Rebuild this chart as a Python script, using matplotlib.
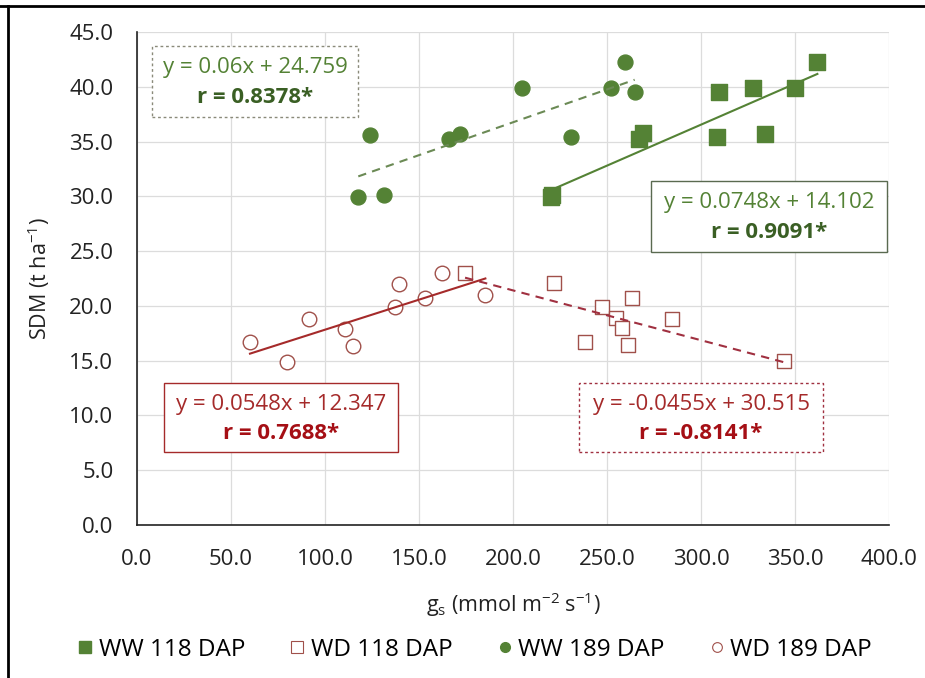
import numpy as np
import matplotlib.pyplot as plt
from matplotlib.patches import Rectangle
from matplotlib.lines import Line2D

plt.rcParams['font.family'] = ['Open Sans', 'DejaVu Sans']
plt.rcParams['mathtext.default'] = 'regular'

# datos
ww118_x = [220.9, 220.0, 309.7, 327.7, 350.0, 361.9, 308.5, 334.0, 269.3, 267.2]
ww118_y = [30.1, 29.9, 39.5, 39.9, 39.9, 42.3, 35.4, 35.7, 35.8, 35.2]
wd118_x = [174.5, 222.0, 263.5, 247.5, 254.6, 258.0, 238.3, 261.3, 284.7, 344.1]
wd118_y = [23.0, 22.1, 20.7, 19.9, 18.9, 18.0, 16.7, 16.4, 18.8, 15.0]
ww189_x = [124.0, 117.7, 131.4, 166.0, 172.0, 204.6, 259.6, 252.0, 264.7, 231.0]
ww189_y = [35.6, 29.9, 30.1, 35.2, 35.7, 39.9, 42.3, 39.9, 39.5, 35.4]
wd189_x = [60.1, 79.8, 91.7, 110.5, 114.7, 137.2, 139.5, 153.4, 162.2, 185.3]
wd189_y = [16.7, 14.9, 18.8, 17.9, 16.3, 19.9, 22.0, 20.7, 23.0, 21.0]

# pendiente, intercepto y r de cada serie
slopes = {'ww118': 0.0748, 'wd118': -0.0455, 'ww189': 0.06, 'wd189': 0.0548}
inters = {'ww118': 14.102, 'wd118': 30.515, 'ww189': 24.759, 'wd189': 12.347}
r_vals = {'ww118': '0.9091*', 'wd118': '-0.8141*', 'ww189': '0.8378*', 'wd189': '0.7688*'}

green = '#548235'
dgreen = '#3a5f24'
red = '#a52a2a'
dred = '#a50f15'
open_edge = '#a0504a'

fig = plt.figure(figsize=(9.25, 6.78), dpi=100)
ax = fig.add_axes([137/925, 1 - 525/678, 752/925, 493/678])

ax.scatter(ww118_x, ww118_y, marker='s', s=120, color=green, zorder=3, label='WW 118 DAP')
ax.scatter(wd118_x, wd118_y, marker='s', s=105, facecolor='white', edgecolor=open_edge,
           linewidth=1.0, zorder=3, label='WD 118 DAP')
ax.scatter(ww189_x, ww189_y, marker='o', s=115, color=green, zorder=3, label='WW 189 DAP')
ax.scatter(wd189_x, wd189_y, marker='o', s=110, facecolor='white', edgecolor=open_edge,
           linewidth=1.0, zorder=3, label='WD 189 DAP')

def tendencia(xs, key, color, ls):
    xx = np.array([min(xs), max(xs)])
    ax.plot(xx, slopes[key] * xx + inters[key], color=color, ls=ls, lw=1.5, zorder=4)

tendencia(ww118_x, 'ww118', green, '-')
tendencia(ww189_x, 'ww189', '#6b8a55', (0, (4, 3)))
tendencia(wd189_x, 'wd189', red, '-')
tendencia(wd118_x, 'wd118', '#a03040', (0, (4, 3)))

def caja(x0, x1, y0, y1, key, c1, c2, edge, ls):
    ax.add_patch(Rectangle((x0, y0), x1 - x0, y1 - y0, transform=ax.transAxes,
                           facecolor='white', edgecolor=edge, lw=1.0, ls=ls, zorder=5))
    sign = '+' if inters[key] >= 0 else '-'
    s_txt = '%g' % slopes[key]
    cx = (x0 + x1) / 2
    h = y1 - y0
    ax.text(cx, y1 - 0.31 * h, 'y = %sx %s %.3f' % (s_txt, sign, abs(inters[key])),
            transform=ax.transAxes, ha='center', va='center', color=c1, fontsize=16, zorder=6)
    ax.text(cx, y1 - 0.73 * h, 'r = ' + r_vals[key], transform=ax.transAxes,
            ha='center', va='center', color=c2, fontsize=16, fontweight='bold', zorder=6)

caja(0.020, 0.294, 0.828, 0.972, 'ww189', green, dgreen, '#8a8a7a', (0, (2, 2)))
caja(0.684, 0.997, 0.554, 0.698, 'ww118', green, dgreen, '#5a6a50', '-')
caja(0.036, 0.347, 0.148, 0.288, 'wd189', '#a52a2a', dred, red, '-')
caja(0.588, 0.912, 0.148, 0.288, 'wd118', '#a52a2a', dred, '#a03040', (0, (2, 2)))

ax.set_xlim(0, 400)
ax.set_ylim(0, 45)
ax.set_xticks(np.arange(0, 401, 50))
ax.set_yticks(np.arange(0, 46, 5))
ax.set_xticklabels(['%.1f' % v for v in np.arange(0, 401, 50)])
ax.set_yticklabels(['%.1f' % v for v in np.arange(0, 46, 5)])
ax.tick_params(length=0, labelsize=16, colors='#222222')
ax.tick_params(axis='y', pad=17)
ax.tick_params(axis='x', pad=17)
ax.grid(True, color='#dcdcdc', lw=0.9)
ax.set_axisbelow(True)
for sp in ['top', 'right']:
    ax.spines[sp].set_visible(False)
ax.spines['left'].set_color('#222222')
ax.spines['bottom'].set_color('#222222')
ax.spines['left'].set_linewidth(1.2)
ax.spines['bottom'].set_linewidth(1.2)

ax.set_xlabel('g$_s$ (mmol m$^{-2}$ s$^{-1}$)', fontsize=15.5, color='#222222')
ax.set_ylabel('SDM (t ha$^{-1}$)', fontsize=15.5, color='#222222')
ax.xaxis.set_label_coords(0.5, -0.132)
ax.yaxis.set_label_coords(-0.113, 0.5)

handles = [
    Line2D([], [], ls='', marker='s', ms=9, color=green),
    Line2D([], [], ls='', marker='s', ms=9, mfc='white', mec=open_edge, mew=0.8),
    Line2D([], [], ls='', marker='o', ms=7, color=green),
    Line2D([], [], ls='', marker='o', ms=7, mfc='white', mec=open_edge, mew=0.8),
]
labels = ['WW 118 DAP', 'WD 118 DAP', 'WW 189 DAP', 'WD 189 DAP']
fig.legend(handles, labels, loc='center', bbox_to_anchor=(473/925, 1 - 650/678), ncol=4,
           frameon=False, fontsize=17.5, handletextpad=0.1, columnspacing=1.7, handlelength=0.9)

# marco exterior
fig.add_artist(Line2D([0, 1], [1 - 6/678, 1 - 6/678], color='black', lw=2, transform=fig.transFigure))
fig.add_artist(Line2D([8/925, 8/925], [0, 1 - 6/678], color='black', lw=2, transform=fig.transFigure))

fig.savefig('out.png', dpi=100)
